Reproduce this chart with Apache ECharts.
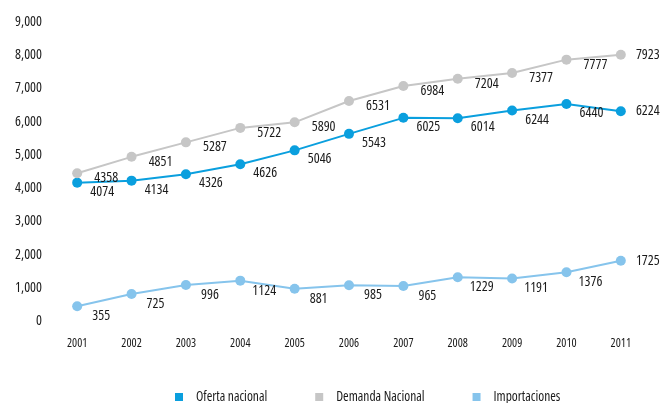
<!DOCTYPE html>
<html>
<head>
<meta charset="utf-8">
<script src="https://cdn.jsdelivr.net/npm/echarts@6/dist/echarts.min.js"></script>
<style>
  html, body { margin: 0; padding: 0; background: #fff; }
  #chart { width: 669px; height: 403px; }
</style>
</head>
<body>
<div id="chart"></div>
<script>
const years = ["2001", "2002", "2003", "2004", "2005", "2006", "2007", "2008", "2009", "2010", "2011"];
const oferta = [4074, 4134, 4326, 4626, 5046, 5543, 6025, 6014, 6244, 6440, 6224];
const demanda = [4358, 4851, 5287, 5722, 5890, 6531, 6984, 7204, 7377, 7777, 7923];
const importaciones = [355, 725, 996, 1124, 881, 985, 965, 1229, 1191, 1376, 1725];

// Open Sans squeezed via font-stretch, close to the condensed face of the original
const font = '"Open Sans", sans-serif';
const stretch = "condensed";
const ink = "#1a1a1a";

// last point label sits to the right, the rest go below-right
function withLabels(values) {
  return values.map(function (v, i) {
    if (i === values.length - 1) {
      return { value: v, label: { offset: [27, 0] } };
    }
    return v;
  });
}

function makeSeries(name, color, values, offset) {
  return {
    name: name,
    type: "line",
    data: withLabels(values),
    symbol: "circle",
    symbolSize: 10,
    lineStyle: { color: color, width: 2 },
    itemStyle: { color: color },
    label: {
      show: true,
      position: "inside",
      offset: offset,
      color: ink,
      fontFamily: font,
      fontStyle: stretch,
      fontSize: 14,
    },
  };
}

const chart = echarts.init(document.getElementById("chart"));
chart.setOption({
  animation: false,
  grid: { left: 50, right: 21, top: 19, bottom: 85 },
  legend: {
    left: 170,
    top: 385,
    itemWidth: 8,
    itemHeight: 8,
    itemGap: 48,
    icon: "rect",
    textStyle: { color: ink, fontFamily: font, fontStyle: stretch, fontSize: 13.5, padding: [0, 0, 0, 8] },
    data: ["Oferta nacional", "Demanda Nacional", "Importaciones"],
  },
  xAxis: {
    type: "category",
    data: years,
    boundaryGap: true,
    axisLine: { show: false },
    axisTick: { show: false },
    axisLabel: { margin: 20, color: ink, fontFamily: font, fontStyle: stretch, fontSize: 12 },
  },
  yAxis: {
    type: "value",
    min: 0,
    max: 9000,
    interval: 1000,
    splitLine: { show: false },
    axisLine: { show: false },
    axisTick: { show: false },
    axisLabel: {
      margin: 8,
      color: ink,
      fontFamily: font,
      fontStyle: stretch,
      fontSize: 14,
      verticalAlign: "top",
      lineHeight: 6,
      formatter: function (v) { return v.toLocaleString("en-US"); },
    },
  },
  series: [
    makeSeries("Oferta nacional", "#0a9fde", oferta, [25, 9]),
    makeSeries("Demanda Nacional", "#c6c6c6", demanda, [29, 5]),
    makeSeries("Importaciones", "#86c4ec", importaciones, [24, 10]),
  ],
});
</script>
</body>
</html>
